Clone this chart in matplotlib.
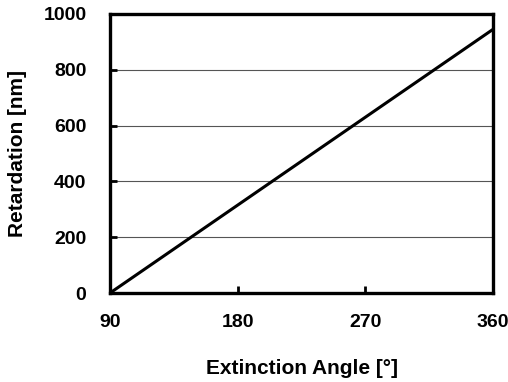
import matplotlib
matplotlib.use("Agg")
import matplotlib.pyplot as plt

# data
angle = [90, 360]
retardation = [0, 945]
x_ticks = [90, 180, 270, 360]
y_ticks = [0, 200, 400, 600, 800, 1000]

plt.rcParams['font.family'] = ['Liberation Sans', 'DejaVu Sans']
plt.rcParams['font.weight'] = 'bold'

fig = plt.figure(figsize=(5.08, 3.82), dpi=100)
ax = fig.add_axes([110 / 508, 1 - 293 / 382, 383 / 508, 279 / 382])

ax.plot(angle, retardation, color='black', lw=2.2, solid_capstyle='butt')
ax.set_xlim(90, 360)
ax.set_ylim(0, 1000)
ax.set_xticks(x_ticks)
ax.set_yticks(y_ticks)
ax.yaxis.grid(True, color='#555555', lw=0.8)
ax.set_axisbelow(True)

for sp in ax.spines.values():
    sp.set_linewidth(2.4)
ax.tick_params(direction='in', length=5, width=2, labelsize=14)
ax.tick_params(axis='y', pad=17)
ax.tick_params(axis='x', pad=15)

ax.set_xlabel('Extinction Angle [°]', fontsize=15, fontweight='bold', labelpad=20)
ax.set_ylabel('Retardation [nm]', fontsize=15, fontweight='bold', labelpad=12)

fig.savefig('out.png', dpi=100)
